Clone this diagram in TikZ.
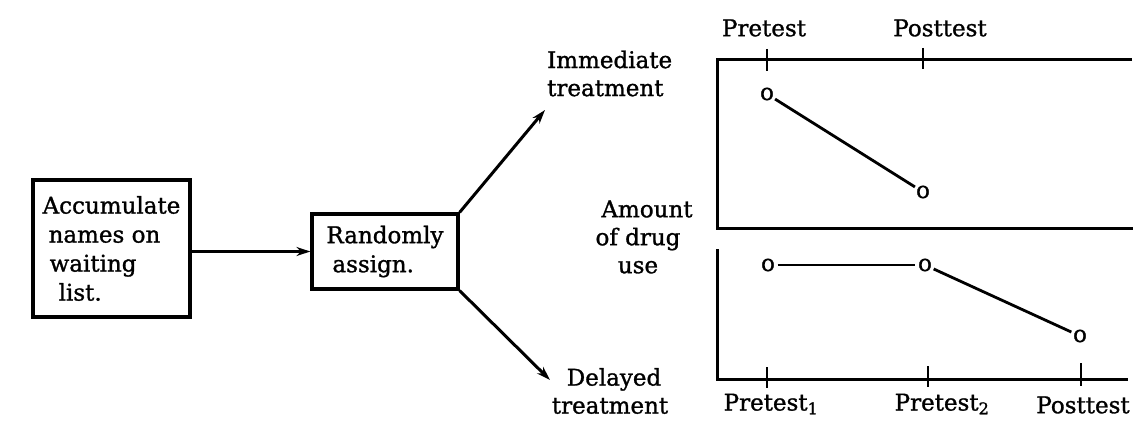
\documentclass[tikz,border=0pt]{standalone}
\usepackage{fontspec}
\setmainfont{DejaVu Serif}[RawFeature={embolden=1.2}]
\usetikzlibrary{arrows.meta}
\begin{document}
\begin{tikzpicture}[x=1pt,y=-1pt,
  lbl/.style={font=\fontsize{23}{28}\selectfont, inner sep=0pt},
  boxnode/.style={draw, line width=3.2pt, font=\fontsize{23}{29}\selectfont, align=left, inner sep=0pt},
  axisline/.style={line width=3pt},
  tickmark/.style={line width=2.2pt},
  ptnode/.style={circle, inner sep=0pt, font=\fontsize{23}{29}\selectfont},
  conn/.style={line width=2.8pt},
  arr/.style={line width=3pt, -{Stealth[length=14pt,width=9pt]}}
]
\useasboundingbox (0,0) rectangle (1142,420);
\fill[white] (0,0) rectangle (1142,420);

% boxes
\node[boxnode, minimum width=157pt, minimum height=137pt] (A) at (111.5,248.5)
  {Accumulate\\\hspace*{6pt}names on\\\hspace*{7pt}waiting\\\hspace*{16pt}list.};
\node[boxnode, minimum width=146pt, minimum height=75pt] (R) at (385,251.5)
  {Randomly\\\hspace*{6pt}assign.};

% branch labels
\node[lbl, align=left, anchor=west] (imm) at (547,73.5) {Immediate\\treatment};
\node[lbl, align=center] (del) at (610,391) {\hspace*{8pt}Delayed\\treatment};
\coordinate (immtip) at (545,110);
\coordinate (deltip) at (550,380);

\draw[arr] (A.east |- R.west) -- (R.west);
\draw[arr] (R.north east) -- (immtip);
\draw[arr] (R.south east) -- (deltip);

% y label
\node[lbl, align=center] (ylab) at (638,237) {\hspace*{18pt}Amount\\of drug\\use};

% upper panel
\draw[axisline] (1132,60) -- (717,60) -- (717,228) -- (1133,228);
\draw[tickmark] (767,49) -- (767,71);
\draw[tickmark] (923,48) -- (923,69);
\node[lbl] (pre) at (764,28) {Pretest};
\node[lbl] (post) at (940,28) {Posttest};
\node[ptnode] (u1) at (767,94) {o};
\node[ptnode] (u2) at (923,192) {o};
\draw[conn] (u1) -- (u2);

% lower panel
\draw[axisline] (717,249) -- (717,379) -- (1128,379);
\draw[tickmark] (767,367) -- (767,388);
\draw[tickmark] (928,366) -- (928,387);
\draw[tickmark] (1081,363) -- (1081,386);
\node[lbl] (pre1) at (771,404) {Pretest\textsubscript{1}};
\node[lbl] (pre2) at (942,404) {Pretest\textsubscript{2}};
\node[lbl] (post2) at (1083,405) {Posttest};
\node[ptnode] (l1) at (768,265) {o};
\node[ptnode] (l2) at (925,265) {o};
\node[ptnode] (l3) at (1080,336) {o};
\draw[conn] (l1) -- (l2);
\draw[conn] (l2) -- (l3);
\end{tikzpicture}
\end{document}
